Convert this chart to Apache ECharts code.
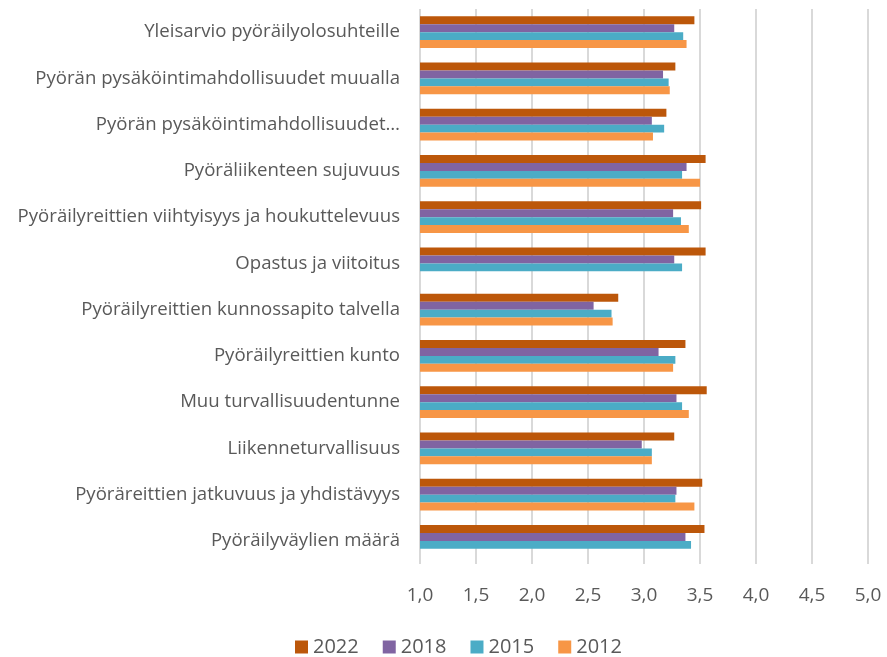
<!DOCTYPE html>
<html>
<head>
<meta charset="utf-8">
<script src="https://cdn.jsdelivr.net/npm/echarts@6/dist/echarts.min.js"></script>
<style>
  html, body { margin: 0; padding: 0; background: #fff; }
  #chart { width: 887px; height: 657px; }
</style>
</head>
<body>
<div id="chart"></div>
<script>
// categories top to bottom
const categories = [
  'Yleisarvio pyöräilyolosuhteille',
  'Pyörän pysäköintimahdollisuudet muualla',
  'Pyörän pysäköintimahdollisuudet…',
  'Pyöräliikenteen sujuvuus',
  'Pyöräilyreittien viihtyisyys ja houkuttelevuus',
  'Opastus ja viitoitus',
  'Pyöräilyreittien kunnossapito talvella',
  'Pyöräilyreittien kunto',
  'Muu turvallisuudentunne',
  'Liikenneturvallisuus',
  'Pyöräreittien jatkuvuus ja yhdistävyys',
  'Pyöräilyväylien määrä'
];
const years = ['2022', '2018', '2015', '2012'];
const v2022 = [3.45, 3.28, 3.20, 3.55, 3.51, 3.55, 2.77, 3.37, 3.56, 3.27, 3.52, 3.54];
const v2018 = [3.27, 3.17, 3.07, 3.38, 3.26, 3.27, 2.55, 3.13, 3.29, 2.98, 3.29, 3.37];
const v2015 = [3.35, 3.22, 3.18, 3.34, 3.33, 3.34, 2.71, 3.28, 3.34, 3.07, 3.28, 3.42];
const v2012 = [3.38, 3.23, 3.08, 3.50, 3.40, null, 2.72, 3.26, 3.40, 3.07, 3.45, null];
const xTicks = { min: 1, max: 5, step: 0.5 };

const colors = ['#BC570A', '#8064A2', '#4BACC6', '#F79646'];
const values = [v2022, v2018, v2015, v2012];
const font = '"Open Sans", "Noto Sans", sans-serif';

const chart = echarts.init(document.getElementById('chart'));
chart.setOption({
  animation: false,
  color: colors,
  textStyle: { fontFamily: font },
  grid: { left: 420, right: 19, top: 9, bottom: 93, containLabel: false },
  legend: {
    data: years,
    top: 637,
    left: 295,
    padding: 0,
    itemWidth: 13,
    itemHeight: 13,
    itemGap: 24,
    icon: 'rect',
    textStyle: { color: '#595959', fontSize: 20, fontFamily: font }
  },
  xAxis: {
    type: 'value',
    min: xTicks.min,
    max: xTicks.max,
    interval: xTicks.step,
    axisLine: { show: false },
    axisTick: { show: false },
    splitLine: { show: true, lineStyle: { color: '#d9d9d9', width: 2 } },
    axisLabel: {
      color: '#595959',
      fontSize: 19,
      margin: 22,
      fontFamily: font,
      formatter: v => v.toFixed(1).replace('.', ',')
    }
  },
  yAxis: {
    type: 'category',
    data: categories,
    inverse: true,
    axisLine: { show: false },
    axisTick: { show: false },
    axisLabel: { color: '#595959', fontSize: 18.6, margin: 20, fontFamily: font }
  },
  series: years.map((y, i) => ({
    name: y,
    type: 'bar',
    data: values[i],
    barGap: '0%',
    barCategoryGap: '31%'
  }))
});
</script>
</body>
</html>
